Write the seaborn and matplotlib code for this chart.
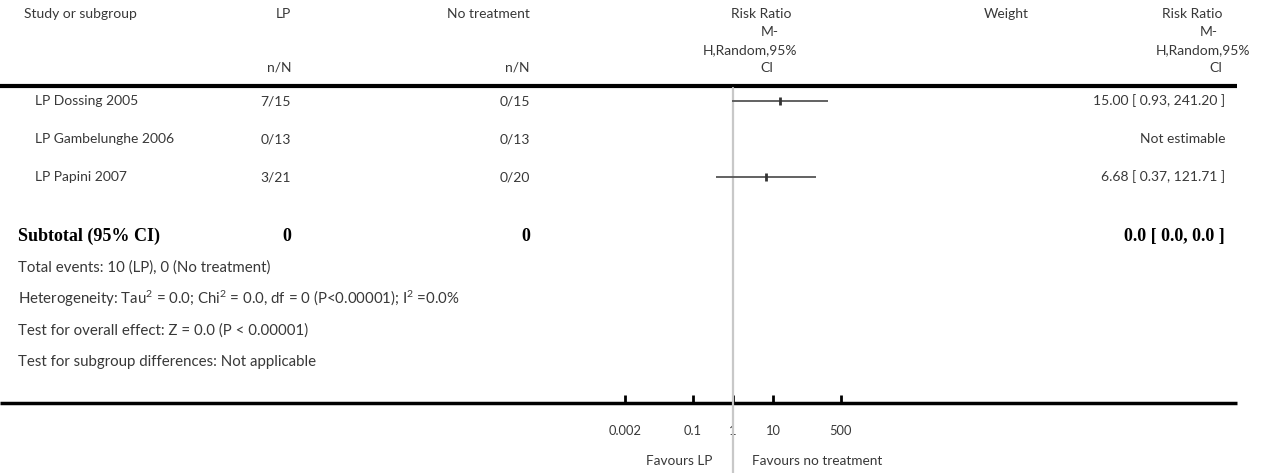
import numpy as np
import pandas as pd
import matplotlib
matplotlib.use("Agg")
import matplotlib.pyplot as plt
import seaborn as sns

# ---------------- data ----------------
studies = ["LP Dossing 2005", "LP Gambelunghe 2006", "LP Papini 2007"]
lp_nN = ["7/15", "0/13", "3/21"]
ctrl_nN = ["0/15", "0/13", "0/20"]
rr = [15.00, np.nan, 6.68]
ci_low = [0.93, np.nan, 0.37]
ci_high = [241.20, np.nan, 121.71]
rr_text = ["15.00 [ 0.93, 241.20 ]", "Not estimable", "6.68 [ 0.37, 121.71 ]"]
subtotal_label = "Subtotal (95% CI)"
subtotal_lp = "0"
subtotal_ctrl = "0"
subtotal_rr = "0.0 [ 0.0, 0.0 ]"
footer_lines = [
    "Total events: 10 (LP), 0 (No treatment)",
    "Heterogeneity: Tau$^2$ = 0.0; Chi$^2$ = 0.0, df = 0 (P<0.00001); I$^2$ =0.0%",
    "Test for overall effect: Z = 0.0 (P < 0.00001)",
    "Test for subgroup differences: Not applicable",
]
tick_values = [0.002, 0.1, 1, 10, 500]
tick_labels = ["0.002", "0.1", "1", "10", "500"]
favours_left = "Favours LP"
favours_right = "Favours no treatment"

df = pd.DataFrame({"study": studies, "rr": rr, "lo": ci_low, "hi": ci_high,
                   "row": np.arange(len(studies))})

# ---------------- figure ----------------
sns.set_theme(style="white")
plt.rcParams["font.family"] = ["Lato", "DejaVu Sans"]
plt.rcParams["mathtext.fontset"] = "custom"
plt.rcParams["mathtext.rm"] = "Lato"
plt.rcParams["mathtext.it"] = "Lato"

W, H = 1264, 473
fig = plt.figure(figsize=(W / 100, H / 100), dpi=100)
fig.patch.set_facecolor("white")

cv = fig.add_axes([0, 0, 1, 1])
cv.set_xlim(0, W)
cv.set_ylim(H, 0)
cv.axis("off")

TXT = "#383838"
FS = 10
FS_FOOT = 10.8
fs_bold = 13

# headers
cv.text(24, 14, "Study or subgroup", fontsize=FS, color=TXT, va="center", ha="left")
cv.text(291, 14, "LP", fontsize=FS, color=TXT, va="center", ha="right")
cv.text(530, 14, "No treatment", fontsize=FS, color=TXT, va="center", ha="right")
cv.text(291, 68, "n/N", fontsize=FS, color=TXT, va="center", ha="right")
cv.text(530, 68, "n/N", fontsize=FS, color=TXT, va="center", ha="right")
cv.text(1006, 14, "Weight", fontsize=FS, color=TXT, va="center", ha="center")
hdr_lines = ["Risk Ratio", "M-", "H,Random,95%", "CI"]
hdr_y = [14, 32, 50, 68]
mid_x = [761, 770, 750, 767]
for t, y, x in zip(hdr_lines, hdr_y, mid_x):
    cv.text(x, y, t, fontsize=FS, color=TXT, va="center", ha="center")
right_x = [1223, 1218, 1250, 1222]
for t, y, x in zip(hdr_lines, hdr_y, right_x):
    cv.text(x, y, t, fontsize=FS, color=TXT, va="center", ha="right")

cv.plot([0, 1237], [86, 86], color="black", lw=3, solid_capstyle="butt")
cv.plot([0, 1237], [403, 403], color="black", lw=2.5, solid_capstyle="butt")

row_y0, row_dy = 101, 38
for i, (s, a, b, t) in enumerate(zip(studies, lp_nN, ctrl_nN, rr_text)):
    y = row_y0 + i * row_dy
    cv.text(35, y, s, fontsize=FS, color=TXT, va="center", ha="left")
    cv.text(291, y, a, fontsize=FS, color=TXT, va="center", ha="right")
    cv.text(530, y, b, fontsize=FS, color=TXT, va="center", ha="right")
    cv.text(1225, y, t, fontsize=FS, color=TXT, va="center", ha="right")

serif = ["Liberation Serif", "DejaVu Serif"]
for x, t, ha in [(18, subtotal_label, "left"), (291, subtotal_lp, "right"),
                 (530, subtotal_ctrl, "right"), (1225, subtotal_rr, "right")]:
    cv.text(x, 236, t, fontsize=fs_bold, weight="bold", family=serif,
            color="black", va="center", ha=ha)

for i, t in enumerate(footer_lines):
    cv.text(18, 268 + i * 31.3, t, fontsize=FS_FOOT, color=TXT, va="center", ha="left")

# ---------------- forest axes ----------------
px_dec = 40.0
x_one = 733.0
L, R, T, B = 560, 900, 88, 403
fx = fig.add_axes([L / W, (H - B) / H, (R - L) / W, (B - T) / H])
fx.set_xscale("log")
fx.set_xlim(10 ** ((L - x_one) / px_dec), 10 ** ((R - x_one) / px_dec))
fx.set_ylim((B - row_y0) / row_dy, (T - row_y0) / row_dy)
fx.patch.set_alpha(0)
for sp in fx.spines.values():
    sp.set_visible(False)

fx.axvline(1, ymin=-(H - B) / (B - T), ymax=1, color="#c8c8c8", lw=1.6,
           clip_on=False, zorder=1)

ok = df.dropna()
fx.hlines(ok["row"], ok["lo"], ok["hi"], color="#555555", lw=1.3, zorder=2)
sns.scatterplot(data=ok, x="rr", y="row", marker="|", s=30, linewidth=2.0,
                color="#333333", ax=fx, zorder=3, legend=False)

fx.set_xticks(tick_values)
fx.set_xticklabels(tick_labels)
fx.minorticks_off()
fx.set_yticks([])
fx.set_xlabel("")
fx.set_ylabel("")
fx.tick_params(axis="x", direction="in", length=6, width=2, color="black",
               pad=16, labelsize=9.3, labelcolor=TXT, bottom=True)

cv.text(712, 461, favours_left, fontsize=9.8, color=TXT, va="center", ha="right")
cv.text(752, 461, favours_right, fontsize=9.8, color=TXT, va="center", ha="left")

fig.savefig("out.png", dpi=100)
